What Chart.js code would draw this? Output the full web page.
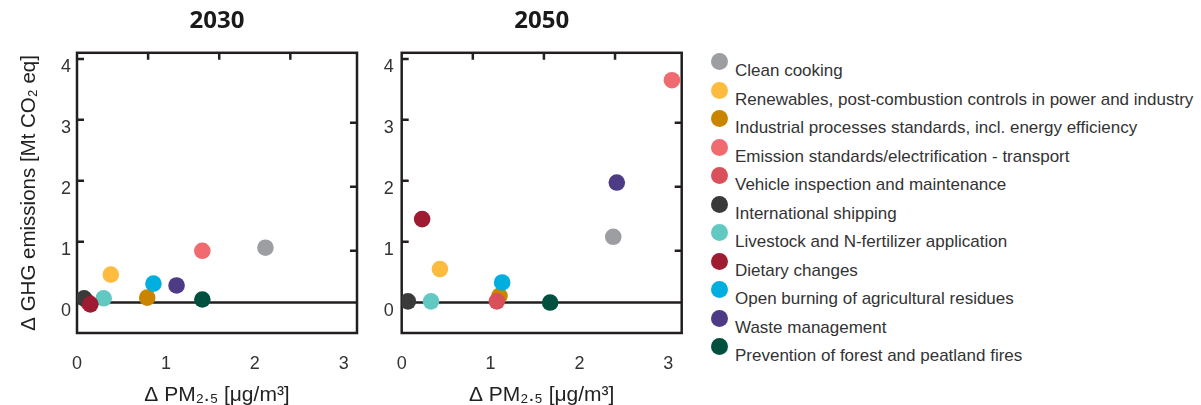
<!DOCTYPE html>
<html>
<head>
<meta charset="utf-8">
<script src="https://cdn.jsdelivr.net/npm/chart.js"></script>
<style>
  body { margin: 0; background: #fff; width: 1201px; height: 405px; overflow: hidden; position: relative; font-family: "Liberation Sans", Arial, sans-serif; }
  canvas { position: absolute; top: 0; }
  #c2030 { left: 0; }
  #c2050 { left: 370px; }
  #legend { position: absolute; left: 711px; top: 53px; }
  .row { position: relative; height: 28.5px; }
  .dot { position: absolute; left: 0; top: 0; width: 17px; height: 17px; border-radius: 50%; }
  .lab { position: absolute; left: 24px; top: 8px; font-size: 17px; color: #333; white-space: nowrap; }
</style>
</head>
<body>
<canvas id="c2030" width="370" height="405"></canvas>
<canvas id="c2050" width="330" height="405"></canvas>
<div id="legend"></div>
<script>
const categories = ["Clean cooking", "Renewables, post-combustion controls in power and industry",
  "Industrial processes standards, incl. energy efficiency", "Emission standards/electrification - transport",
  "Vehicle inspection and maintenance", "International shipping", "Livestock and N-fertilizer application",
  "Dietary changes", "Open burning of agricultural residues", "Waste management",
  "Prevention of forest and peatland fires"];
const colors = ["#9d9ea2", "#fdbb40", "#c98500", "#ef6b70", "#d9505b", "#3a3a3a", "#62c9c2",
  "#9e1b32", "#00aee0", "#4e3b86", "#00503f"];

// delta PM2.5 (x) and delta GHG (y) per measure
const pm2030  = [2.12, 0.38, 0.79, 1.41, 0.13, 0.08, 0.30, 0.15, 0.86, 1.12, 1.41];
const ghg2030 = [0.90, 0.46, 0.08, 0.85, 0.00, 0.07, 0.07, -0.03, 0.31, 0.28, 0.05];
const pm2050  = [2.38, 0.43, 1.10, 3.04, 1.07, 0.07, 0.33, 0.23, 1.13, 2.42, 1.67];
const ghg2050 = [1.08, 0.55, 0.11, 3.65, 0.02, 0.02, 0.02, 1.37, 0.33, 1.97, 0.00];

const xTicks = [0, 1, 2, 3];
const yTicks = [0, 1, 2, 3, 4];
const topMarks = [0.8, 1.6, 2.4];
const rightMarks = [0.85, 1.9, 2.95];

const frame = {
  id: 'frame',
  beforeDatasetsDraw(chart) {
    const {ctx, chartArea: a, scales: {x, y}} = chart;
    ctx.save();
    ctx.strokeStyle = '#231f20';
    ctx.lineWidth = 2.5;
    ctx.strokeRect(a.left, a.top, a.right - a.left, a.bottom - a.top);
    ctx.beginPath();
    const y0 = y.getPixelForValue(0);
    ctx.moveTo(a.left, y0); ctx.lineTo(a.right, y0);
    yTicks.slice(1).forEach(v => { const p = y.getPixelForValue(v); ctx.moveTo(a.left, p); ctx.lineTo(a.left + 7, p); });
    rightMarks.forEach(v => { const p = y.getPixelForValue(v); ctx.moveTo(a.right, p); ctx.lineTo(a.right - 7, p); });
    topMarks.forEach(v => { const p = x.getPixelForValue(v); ctx.moveTo(p, a.top); ctx.lineTo(p, a.top + 7); });
    ctx.stroke();
    ctx.restore();
  }
};

const tickFont = {family: '"Liberation Sans", Arial, sans-serif', size: 18};

function makeChart(id, xs, ys, title, showYTitle, yWidth, padRight, yPad) {
  return new Chart(id, {
    type: 'scatter',
    data: {
      datasets: categories.map((c, i) => ({
        label: c,
        data: [{x: xs[i], y: ys[i]}],
        backgroundColor: colors[i],
        borderWidth: 0,
        pointRadius: 8.3,
        order: categories.length - i
      }))
    },
    options: {
      responsive: false,
      animation: false,
      layout: {padding: {top: 0, right: padRight, bottom: 0, left: 0}},
      plugins: {
        legend: {display: false},
        tooltip: {enabled: false},
        title: {
          display: true, text: title, fullSize: false, color: '#1a1a1a',
          font: {family: '"Open Sans", sans-serif', size: 24, weight: 'bold'},
          padding: {top: 7, bottom: 17}
        }
      },
      scales: {
        x: {
          type: 'linear', min: 0, max: 3.15,
          afterBuildTicks: s => { s.ticks = xTicks.map(v => ({value: v})); },
          afterFit: s => { s.height = 72; },
          ticks: {color: '#333', font: tickFont, padding: 20},
          grid: {display: false, drawTicks: false},
          border: {display: false},
          title: {display: true, text: 'Δ PM₂.₅ [μg/m³]', color: '#222',
            font: {family: '"Liberation Sans", Arial, sans-serif', size: 21, lineHeight: 0.9},
            padding: {top: 0, bottom: 0}}
        },
        y: {
          type: 'linear', min: -0.5, max: 4.1,
          afterBuildTicks: s => { s.ticks = yTicks.map(v => ({value: v})); },
          afterFit: s => { s.width = yWidth; },
          ticks: {color: '#333', font: tickFont, padding: yPad, labelOffset: 8},
          grid: {display: false, drawTicks: false},
          border: {display: false},
          title: {display: showYTitle, text: 'Δ GHG emissions [Mt CO₂ eq]', color: '#222',
            font: {family: '"Liberation Sans", Arial, sans-serif', size: 20.5},
            padding: {top: 17, bottom: 0}}
        }
      }
    },
    plugins: [frame]
  });
}

makeChart('c2030', pm2030, ghg2030, '2030', true, 77, 13, 6);
makeChart('c2050', pm2050, ghg2050, '2050', false, 31.7, 18.3, 8);

const legend = document.getElementById('legend');
categories.forEach((c, i) => {
  const row = document.createElement('div');
  row.className = 'row';
  row.innerHTML = '<span class="dot" style="background:' + colors[i] + '"></span><span class="lab">' + c + '</span>';
  legend.appendChild(row);
});
</script>
</body>
</html>
